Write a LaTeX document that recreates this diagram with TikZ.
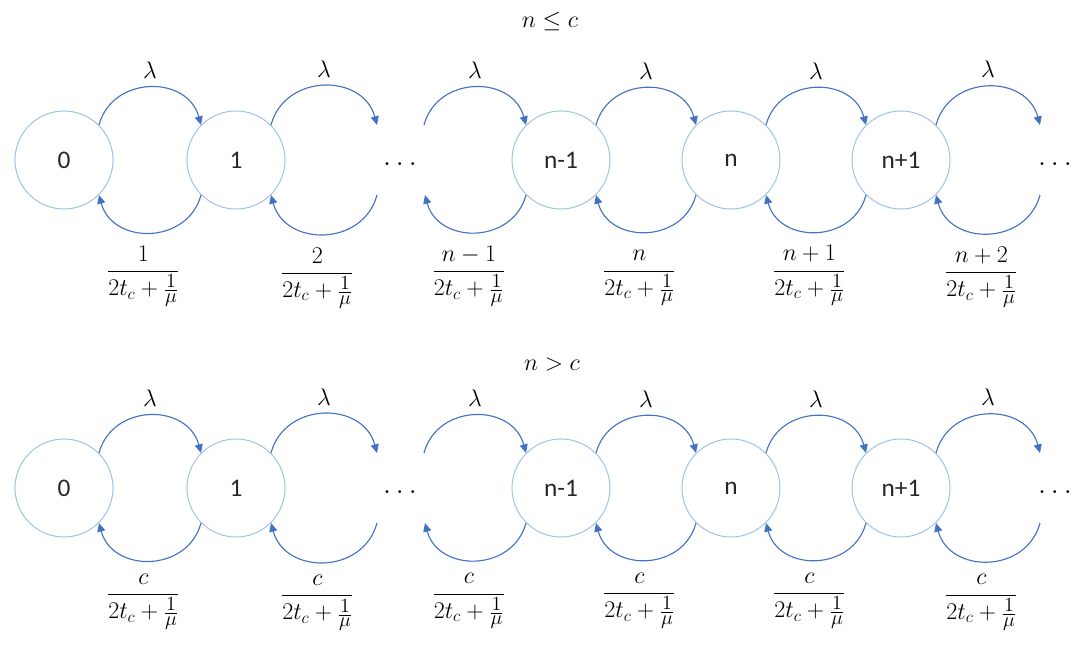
\RequirePackage{fix-cm}
\documentclass[tikz,border=0pt]{standalone}
\usepackage{amsmath}
\usepackage{fontspec}
\setsansfont{Carlito}
\usetikzlibrary{arrows.meta}
\definecolor{circ}{HTML}{9DC3E6}
\definecolor{arrc}{HTML}{4472C4}
\newcommand{\invmu}{\hbox{\fontsize{15}{18}\selectfont$\frac{\textstyle 1}{\textstyle\mu}$}}
\newcommand{\rt}[1]{$\dfrac{#1}{2t_c+\invmu}$}
\begin{document}
\begin{tikzpicture}[x=0.75pt,y=0.75pt,
  state/.style={circle,draw=circ,line width=0.75pt,minimum size=73.5pt,inner sep=0pt,
    text=black!85,font=\sffamily\fontsize{19}{23}\selectfont},
  dotsn/.style={inner sep=0pt,font=\fontsize{22}{26}\selectfont},
  arr/.style={draw=arrc,line width=0.85pt,-{Triangle[length=6.5pt,width=6pt]}},
  up/.style={out=75,in=105,looseness=1.3},
  down/.style={out=-105,in=-75,looseness=1.3},
  lam/.style={pos=0.5,above=3pt,font=\fontsize{18}{22}\selectfont},
  rateT/.style={pos=0.5,anchor=base,yshift=-34pt,xshift=-5pt,inner sep=0pt,font=\fontsize{18}{22}\selectfont},
  rateB/.style={pos=0.5,anchor=base,yshift=-30pt,xshift=-5pt,inner sep=0pt,font=\fontsize{18}{22}\selectfont},
  ttl/.style={font=\fontsize{18}{22}\selectfont}
]
\path[use as bounding box] (0,0) rectangle (1086,653);

% titles
\node[ttl] (title1) at (550,631) {$n \le c$};
\node[ttl] (title2) at (552,288) {$n > c$};

% ---------- top row ----------
\node[state] (t0) at (64,493) {0};
\node[state] (t1) at (236,493) {1};
\node[dotsn] (td1) at (400,489) {$\ldots$};
\node[state] (tm) at (561,493) {n-1};
\node[state] (tn) at (731,493) {n};
\node[state] (tp) at (901,493) {n+1};
\node[dotsn] (td2) at (1055,489) {$\ldots$};
\coordinate (ta1) at (377,528); \coordinate (tb1) at (377,458);
\coordinate (ta2) at (424,528); \coordinate (tb2) at (425,458);
\coordinate (ta3) at (1040,528); \coordinate (tb3) at (1040,458);

\draw[arr] (t0.45) to[up] node[lam]{$\lambda$} (t1.135);
\draw[arr] (t1.45) to[up] node[lam]{$\lambda$} (ta1);
\draw[arr] (ta2) to[up] node[lam]{$\lambda$} (tm.135);
\draw[arr] (tm.45) to[up] node[lam]{$\lambda$} (tn.135);
\draw[arr] (tn.45) to[up] node[lam]{$\lambda$} (tp.135);
\draw[arr] (tp.45) to[up] node[lam]{$\lambda$} (ta3);

\draw[arr] (t1.-135) to[down] node[rateT]{\rt{1}} (t0.-45);
\draw[arr] (tb1) to[down] node[rateT]{\rt{2}} (t1.-45);
\draw[arr] (tm.-135) to[down] node[rateT]{\rt{n-1}} (tb2);
\draw[arr] (tn.-135) to[down] node[rateT]{\rt{n}} (tm.-45);
\draw[arr] (tp.-135) to[down] node[rateT]{\rt{n+1}} (tn.-45);
\draw[arr] (tb3) to[down] node[rateT]{\rt{n+2}} (tp.-45);

% ---------- bottom row ----------
\node[state] (b0) at (64,165) {0};
\node[state] (b1) at (236,165) {1};
\node[dotsn] (bd1) at (400,161) {$\ldots$};
\node[state] (bm) at (561,165) {n-1};
\node[state] (bn) at (731,165) {n};
\node[state] (bp) at (901,165) {n+1};
\node[dotsn] (bd2) at (1055,161) {$\ldots$};
\coordinate (ba1) at (377,200); \coordinate (bb1) at (377,130);
\coordinate (ba2) at (424,200); \coordinate (bb2) at (425,130);
\coordinate (ba3) at (1040,200); \coordinate (bb3) at (1040,130);

\draw[arr] (b0.45) to[up] node[lam]{$\lambda$} (b1.135);
\draw[arr] (b1.45) to[up] node[lam]{$\lambda$} (ba1);
\draw[arr] (ba2) to[up] node[lam]{$\lambda$} (bm.135);
\draw[arr] (bm.45) to[up] node[lam]{$\lambda$} (bn.135);
\draw[arr] (bn.45) to[up] node[lam]{$\lambda$} (bp.135);
\draw[arr] (bp.45) to[up] node[lam]{$\lambda$} (ba3);

\draw[arr] (b1.-135) to[down] node[rateB]{\rt{c}} (b0.-45);
\draw[arr] (bb1) to[down] node[rateB]{\rt{c}} (b1.-45);
\draw[arr] (bm.-135) to[down] node[rateB]{\rt{c}} (bb2);
\draw[arr] (bn.-135) to[down] node[rateB]{\rt{c}} (bm.-45);
\draw[arr] (bp.-135) to[down] node[rateB]{\rt{c}} (bn.-45);
\draw[arr] (bb3) to[down] node[rateB]{\rt{c}} (bp.-45);
\end{tikzpicture}
\end{document}
